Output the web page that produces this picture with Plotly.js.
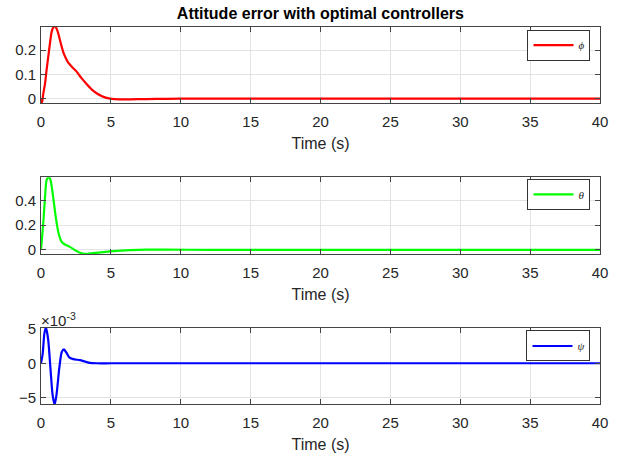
<!DOCTYPE html>
<html>
<head>
<meta charset="utf-8">
<script src="https://cdn.plot.ly/plotly-3.0.1.min.js"></script>
<style>html,body{margin:0;padding:0;background:#fff;}#chart{width:618px;height:457px;}</style>
</head>
<body>
<div id="chart"></div>
<script>
// ---- data ----
const tPhi = [0, 0.07, 0.15, 0.29, 0.40, 0.52, 0.64, 0.76, 0.88, 1.0, 1.12, 1.24, 1.36, 1.48, 1.6, 1.76, 1.95, 2.19, 2.55, 2.9, 3.26, 3.62, 3.98, 4.33, 4.69, 5.05, 5.6, 6.4, 7.5, 9, 11, 15, 20, 30, 40];
const phi  = [0, -0.018, 0.015, 0.063, 0.118, 0.173, 0.227, 0.275, 0.293, 0.297, 0.288, 0.267, 0.24, 0.214, 0.19, 0.168, 0.148, 0.132, 0.111, 0.084, 0.06, 0.038, 0.022, 0.011, 0.003, -0.001, -0.003, -0.003, -0.002, -0.001, 0, 0, 0, 0, 0];

const tTheta = [0, 0.17, 0.29, 0.40, 0.57, 0.71, 0.88, 1.07, 1.26, 1.48, 1.71, 2.07, 2.43, 2.79, 3.14, 3.74, 4.45, 5.17, 6.36, 7.5, 9, 12, 20, 30, 40];
const theta  = [0, 0.23, 0.43, 0.566, 0.595, 0.553, 0.42, 0.255, 0.133, 0.065, 0.043, 0.024, -0.003, -0.024, -0.033, -0.027, -0.019, -0.011, -0.003, 0.001, 0.001, 0, 0, 0, 0];

const tPsi = [0, 0.12, 0.24, 0.36, 0.52, 0.69, 0.83, 0.98, 1.12, 1.31, 1.48, 1.64, 1.83, 2.02, 2.31, 2.79, 3.14, 3.5, 4.0, 5, 10, 20, 30, 40];
const psiE3 = [0, 1.35, 4.3, 5.2, 3.3, -1.1, -4.6, -6.0, -4.4, -0.65, 1.6, 2.0, 1.5, 0.85, 0.6, 0.45, 0.25, 0.05, 0, 0, 0, 0, 0, 0];

const xTicks = [0, 5, 10, 15, 20, 25, 30, 35, 40];
const titleText = 'Attitude error with optimal controllers';
const xTitle = 'Time (s)';
const names = ['<i>ϕ</i>', '<i>θ</i>', '<i>ψ</i>'];

// ---- styles ----
const FONT = 'Liberation Sans, Arial, Helvetica, sans-serif';
const axisBase = {
  ticks: 'inside', ticklen: 5, tickcolor: '#444', tickwidth: 1,
  showline: true, linecolor: '#444', linewidth: 1, mirror: 'ticks',
  showgrid: true, gridcolor: '#e3e3e3', gridwidth: 1, zeroline: false,
  tickfont: {family: FONT, size: 15, color: '#262626'}
};
function xa(anchor) {
  return Object.assign({}, axisBase, {
    anchor: anchor, range: [0, 40], tickvals: xTicks, domain: [0, 1], ticklabelstandoff: 5,
    title: {text: xTitle, font: {family: FONT, size: 16, color: '#262626'}, standoff: 8}
  });
}
function ya(domain, range, tickvals) {
  return Object.assign({}, axisBase, {domain: domain, range: range, tickvals: tickvals, ticklabelstandoff: 1});
}
const lw = 2.2;
const traces = [
  {x: tPhi, y: phi, xaxis: 'x', yaxis: 'y', type: 'scatter', mode: 'lines', name: names[0],
   line: {color: '#ff0000', width: lw, shape: 'spline', smoothing: 0.6}, legend: 'legend'},
  {x: tTheta, y: theta, xaxis: 'x2', yaxis: 'y2', type: 'scatter', mode: 'lines', name: names[1],
   line: {color: '#00ff00', width: lw, shape: 'spline', smoothing: 0.6}, legend: 'legend2'},
  {x: tPsi, y: psiE3, xaxis: 'x3', yaxis: 'y3', type: 'scatter', mode: 'lines', name: names[2],
   line: {color: '#0000ff', width: lw, shape: 'spline', smoothing: 0.6}, legend: 'legend3'}
];
function leg(y) {
  return {x: 0.983, xanchor: 'right', y: y, yanchor: 'top', bgcolor: '#ffffff',
    bordercolor: '#333', borderwidth: 1, itemwidth: 40,
    font: {family: 'Liberation Serif, Times New Roman, serif', size: 11, color: '#262626'}};
}
const layout = {
  width: 618, height: 457,
  margin: {l: 41, r: 18, t: 27, b: 52.7},
  paper_bgcolor: '#ffffff', plot_bgcolor: '#ffffff',
  showlegend: true,
  title: {text: '<b>' + titleText + '</b>', font: {family: FONT, size: 16, color: '#000'},
          x: 0.5185, xanchor: 'center', y: 0.9716, yanchor: 'middle', yref: 'container'},
  xaxis: xa('y'), xaxis2: xa('y2'), xaxis3: xa('y3'),
  yaxis: ya([0.7986, 1], [-0.018, 0.295], [0, 0.1, 0.2]),
  yaxis2: ya([0.3976, 0.6016], [-0.035, 0.59], [0, 0.2, 0.4]),
  yaxis3: ya([0, 0.2014], [-5.9, 5.1], [-5, 0, 5]),
  legend: leg(0.993), legend2: leg(0.597), legend3: leg(0.195),
  annotations: [{xref: 'paper', yref: 'paper', x: 0, y: 0.2014, xanchor: 'left', yanchor: 'bottom',
    text: '×10<sup>-3</sup>', showarrow: false, font: {family: FONT, size: 15, color: '#262626'}, xshift: -2, yshift: -3}]
};
Plotly.newPlot('chart', traces, layout, {displayModeBar: false, staticPlot: true});
</script>
</body>
</html>
